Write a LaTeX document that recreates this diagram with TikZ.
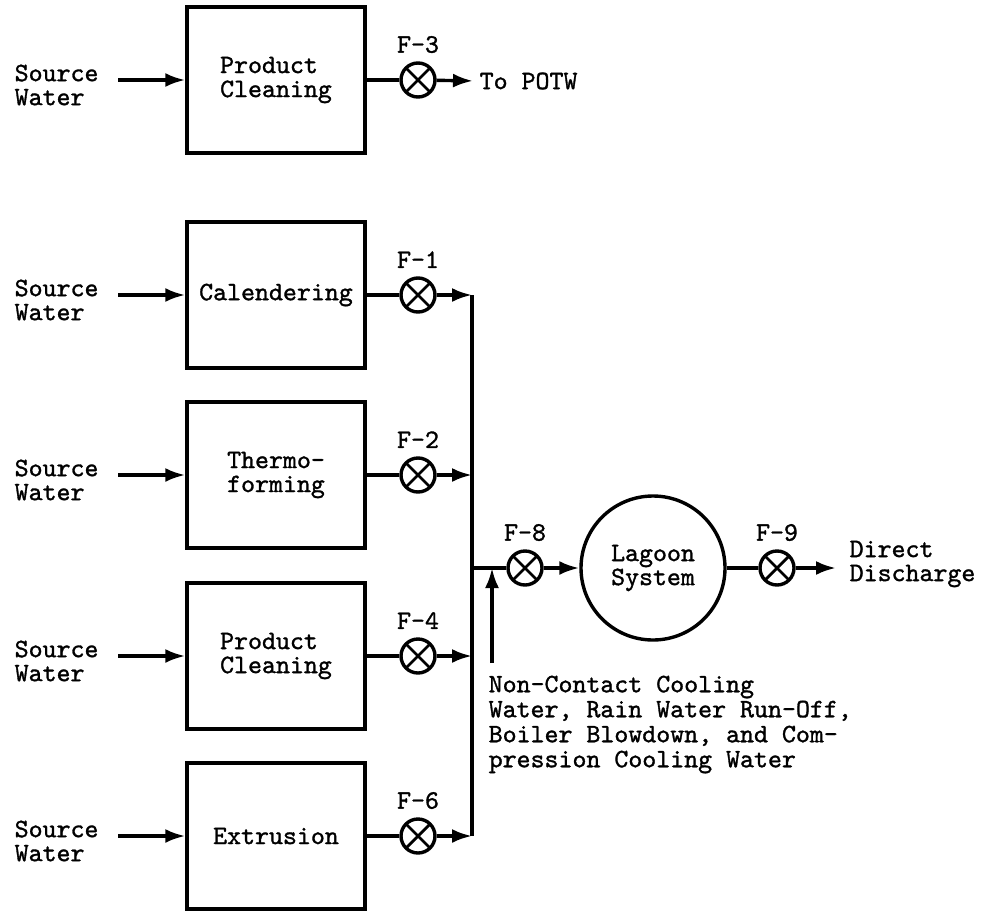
\documentclass[tikz,border=0pt]{standalone}
\usepackage{fontspec}
\newfontfamily\typer{lmmono10-regular.otf}[FakeBold=1.2]
\usepackage{tikz}
\usetikzlibrary{arrows.meta}

\begin{document}
\begin{tikzpicture}[x=0.5pt, y=-0.5pt, line width=1.7pt,
    font=\fontsize{13.3}{12}\selectfont\typer,
    >={Latex[length=10pt, width=7pt]},
    unit/.style={draw, minimum width=89pt, minimum height=73pt, align=left},
    valve/.style={draw, circle, minimum size=17pt, inner sep=0pt,
        label distance=1.5pt,
        path picture={\draw[line width=1.4pt]
            (path picture bounding box.north west) -- (path picture bounding box.south east)
            (path picture bounding box.north east) -- (path picture bounding box.south west);}},
    src/.style={anchor=west, align=left, inner sep=0pt}]

    \useasboundingbox (0,0) rectangle (984,910);

    % Process units
    \node[unit] (clean0) at (276,80) {Product\\Cleaning};
    \node[unit] (cal) at (276,295) {Calendering};
    \node[unit] (thermo) at (276,475) {Thermo-\\forming};
    \node[unit] (clean) at (276,656) {Product\\Cleaning};
    \node[unit] (extr) at (276,836) {Extrusion};

    % Source water inlets
    \node[src] (src0) at (13,85) {Source\\Water};
    \node[src] (src1) at (13,300) {Source\\Water};
    \node[src] (src2) at (13,480) {Source\\Water};
    \node[src] (src3) at (13,661) {Source\\Water};
    \node[src] (src4) at (13,841) {Source\\Water};

    \draw[->, shorten <=9pt] (src0.east |- clean0.west) -- (clean0);
    \draw[->, shorten <=9pt] (src1.east |- cal.west) -- (cal);
    \draw[->, shorten <=9pt] (src2.east |- thermo.west) -- (thermo);
    \draw[->, shorten <=9pt] (src3.east |- clean.west) -- (clean);
    \draw[->, shorten <=9pt] (src4.east |- extr.west) -- (extr);

    % Sampling points
    \node[valve, label=above:F-3] (f3) at (418,80) {};
    \node[valve, label=above:F-1] (f1) at (418,295) {};
    \node[valve, label=above:F-2] (f2) at (418,475) {};
    \node[valve, label=above:F-4] (f4) at (418,656) {};
    \node[valve, label=above:F-6] (f6) at (418,836) {};

    % Top line goes to the POTW
    \node[src] (potw) at (478,81) {To POTW};
    \draw (clean0) -- (f3);
    \draw[->, shorten >=2.5pt] (f3) -- (potw.west);

    % Collection line
    \coordinate (b1) at (472,295);
    \coordinate (b2) at (472,475);
    \coordinate (b4) at (472,656);
    \coordinate (b6) at (472,836);
    \coordinate (j) at (472,568);

    \draw (cal) -- (f1);
    \draw (thermo) -- (f2);
    \draw (clean) -- (f4);
    \draw (extr) -- (f6);
    \draw[->] (f1) -- (b1);
    \draw[->] (f2) -- (b2);
    \draw[->] (f4) -- (b4);
    \draw[->] (f6) -- (b6);
    \draw (b1) -- (b6);

    % Lagoon and discharge
    \node[valve, label=above:F-8] (f8) at (525,568) {};
    \node[draw, circle, minimum size=72pt, align=center] (lagoon) at (653,568) {Lagoon\\System};
    \node[valve, label=above:F-9] (f9) at (777,568) {};
    \node[src] (out) at (848,564) {Direct\\Discharge};

    \draw (j) -- (f8);
    \draw[->] (f8) -- (lagoon);
    \draw (lagoon) -- (f9);
    \draw[->, shorten >=6pt] (f9) -- (f9 -| out.west);

    % Other waters joining before F-8
    \coordinate (cw) at (492,663);
    \draw[->] (cw) -- (cw |- j);
    \node[src, anchor=north west, font=\fontsize{13.3}{12.5}\selectfont\typer] (cool) at (487,674)
        {Non-Contact Cooling\\Water, Rain Water Run-Off,\\Boiler Blowdown, and Com-\\pression Cooling Water};

\end{tikzpicture}
\end{document}
